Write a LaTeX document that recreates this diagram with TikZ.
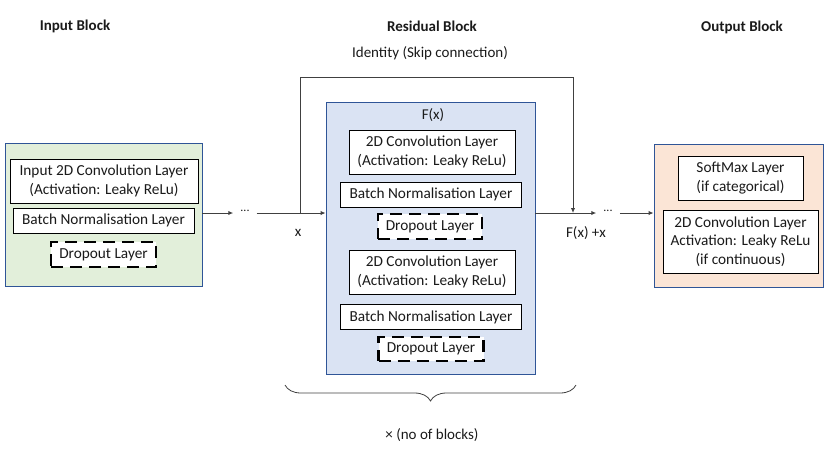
\documentclass[tikz,border=0pt]{standalone}
\usepackage{fontspec}
\setmainfont{Carlito}
\usetikzlibrary{arrows.meta,decorations.pathreplacing}
\definecolor{ingreen}{HTML}{E2EFDA}
\definecolor{resblue}{HTML}{DAE3F3}
\definecolor{outpeach}{HTML}{FBE5D6}
\definecolor{edgeblue}{HTML}{2F5597}
\definecolor{linegray}{HTML}{404040}
\definecolor{txt}{HTML}{1A1A1A}
\tikzset{
  blockbox/.style={draw=edgeblue, line width=0.9pt, rectangle, inner sep=0pt},
  layerbox/.style={draw=black, line width=1pt, fill=white, rectangle, align=center, inner sep=0pt, text=txt, font=\fontsize{15.3}{18.5}\selectfont},
  dropbox/.style={draw=black, line width=2.8pt, dash pattern=on 12pt off 7pt, fill=white, rectangle, inner sep=0pt, text=txt, font=\fontsize{15.3}{18.5}\selectfont},
  title/.style={text=txt, font=\bfseries\fontsize{15}{18}\selectfont},
  lbl/.style={text=txt, font=\fontsize{15}{18}\selectfont},
  arr/.style={draw=linegray, line width=1pt, -{Latex[length=5pt,width=4.5pt]}},
  ln/.style={draw=linegray, line width=1pt},
  dots/.style={text=txt, font=\fontsize{12}{14}\selectfont, inner xsep=7pt, inner ysep=0pt}
}
\begin{document}
\begin{tikzpicture}[x=1pt,y=-1pt]
\useasboundingbox (0,0) rectangle (830,451);
% titles
\node[title] (t1) at (75,26) {Input Block};
\node[title] (t2) at (432,26) {Residual Block};
\node[title] (t3) at (742,27) {Output Block};
\node[lbl] (idl) at (430,53) {Identity (Skip connection)};
% input block
\node[blockbox, fill=ingreen, minimum width=197, minimum height=143] (inb) at (103.5,214.5) {};
\node[layerbox, minimum width=188, minimum height=44] (inconv) at (104,181) {Input 2D Convolution Layer\\(Activation: Leaky ReLu)};
\node[layerbox, minimum width=181, minimum height=25] (inbatch) at (103.5,220.5) {Batch Normalisation Layer};
\node[dropbox, minimum width=105, minimum height=25] (indrop) at (103.5,254.5) {Dropout Layer};
% residual block
\node[blockbox, fill=resblue, minimum width=209, minimum height=272] (res) at (430.5,238) {};
\node[lbl] (fx) at (433,115) {F(x)};
\node[layerbox, minimum width=166, minimum height=44] (conv1) at (432,152) {2D Convolution Layer\\(Activation: Leaky ReLu)};
\node[layerbox, minimum width=181, minimum height=25] (batch1) at (431,194.5) {Batch Normalisation Layer};
\node[dropbox, minimum width=104, minimum height=25] (drop1) at (430,226.5) {Dropout Layer};
\node[layerbox, minimum width=166, minimum height=44] (conv2) at (432,272) {2D Convolution Layer\\(Activation: Leaky ReLu)};
\node[layerbox, minimum width=181, minimum height=25] (batch2) at (431,317) {Batch Normalisation Layer};
\node[dropbox, minimum width=105, minimum height=24] (drop2) at (431,349) {Dropout Layer};
% output block
\node[blockbox, fill=outpeach, minimum width=169, minimum height=143] (outb) at (738.5,215.5) {};
\node[layerbox, minimum width=125, minimum height=44] (soft) at (740.5,178) {SoftMax Layer\\(if categorical)};
\node[layerbox, minimum width=155, minimum height=63] (outconv) at (740.5,241.5) {2D Convolution Layer\\Activation: Leaky ReLu\\(if continuous)};
% connectors
\node[dots] (d1) at (245,211) {...};
\node[dots] (d2) at (608,211) {...};
\coordinate (br) at (300,213);
\coordinate (sum) at (573,213);
\draw[arr] (inb.east |- 0,213) -- (d1.west |- 0,213);
\draw[arr] (d1.east |- 0,213) -- (res.west |- 0,213);
\draw[arr] (br) -- (300,77) -| (sum);
\draw[arr] (res.east |- 0,213) -- (d2.west |- 0,213);
\draw[arr] (d2.east |- 0,213) -- (outb.west |- 0,213);
\node[lbl] (xl) at (298,233) {x};
\node[lbl] (fxx) at (586,233) {F(x) +x};
% brace
\coordinate (b1) at (285,385);
\coordinate (b2) at (576,385);
\draw[ln, line width=0.8pt, decorate, decoration={brace, mirror, amplitude=16pt}] (b1) -- (b2);
\node[lbl] (nb) at (432,435) {× (no of blocks)};
\end{tikzpicture}
\end{document}
